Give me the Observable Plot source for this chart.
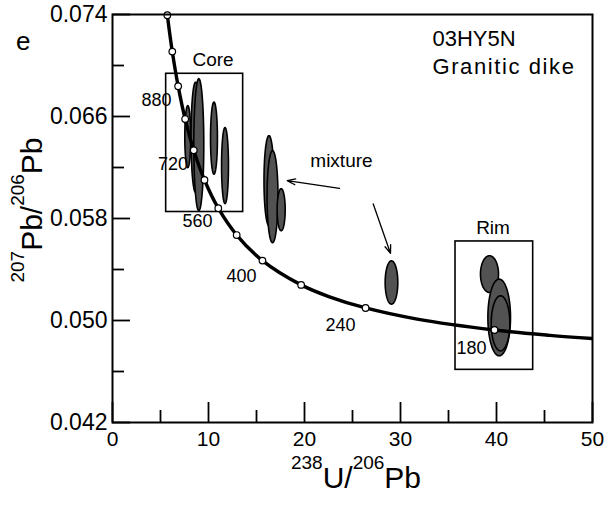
<!DOCTYPE html>
<html><head><meta charset="utf-8">
<script src="https://cdn.jsdelivr.net/npm/d3@7"></script>
<script src="https://cdn.jsdelivr.net/npm/@observablehq/plot@0.6"></script>
<style>body{margin:0;background:#fff} svg{display:block}</style>
</head><body><div id="chart"></div>
<script>
// Concordia curve (Tera-Wasserburg), ages in Ma
const concordiaAge = [1040, 960, 880, 800, 720, 640, 560, 480, 400, 320, 280, 240, 200, 160, 140, 125];
const concordiaX   = [5.712, 6.227, 6.837, 7.568, 8.463, 9.581, 11.019, 12.936, 15.621, 19.649, 22.527, 26.363, 31.735, 39.792, 45.547, 51.07];
const concordiaY   = [0.073946, 0.071090, 0.068377, 0.065800, 0.063350, 0.061022, 0.058808, 0.056703, 0.054700, 0.052794, 0.051878, 0.050982, 0.050108, 0.049256, 0.048837, 0.048525];
const markerAges   = [1040, 960, 880, 800, 720, 640, 560, 480, 400, 320, 240, 160];

// Age labels on the curve
const ageLabels = ["880", "720", "560", "400", "240", "180"];
const ageLabelX = [4.58, 6.30, 8.85, 13.44, 23.75, 37.40];
const ageLabelY = [0.06725, 0.06222, 0.05779, 0.05347, 0.04966, 0.04786];

// Error ellipses: centre and half-axes
const ellipseCX = [7.84, 8.65, 8.99, 10.57, 11.72, 16.30, 16.67, 17.57, 29.06, 39.27, 40.28, 40.42];
const ellipseCY = [0.06442, 0.06437, 0.06379, 0.06430, 0.06215, 0.06097, 0.05971, 0.05869, 0.05298, 0.05364, 0.05024, 0.04978];
const ellipseRX = [0.31, 0.47, 0.52, 0.36, 0.36, 0.52, 0.57, 0.42, 0.66, 0.94, 1.18, 0.97];
const ellipseRY = [0.00243, 0.00432, 0.00518, 0.00283, 0.00298, 0.00353, 0.00361, 0.00165, 0.00170, 0.00144, 0.00301, 0.00216];

// Boxes
const boxName = ["Core", "Rim"];
const boxX1 = [5.59, 35.73];
const boxX2 = [13.61, 43.82];
const boxY1 = [0.05851, 0.04613];
const boxY2 = [0.06935, 0.05620];

// Annotations
const noteText = ["Core", "Rim", "mixture"];
const noteX = [10.47, 39.64, 23.85];
const noteY = [0.07047, 0.05728, 0.06250];
const sampleText = ["03HY5N", "Granitic dike"];
const sampleX = [33.33, 33.33];
const sampleY = [0.07212, 0.06992];
const panelText = ["e"];
const panelX = [-9.3];
const panelY = [0.07185];

// Arrows
const arrowX1 = [23.65, 27.16];
const arrowY1 = [0.06036, 0.05914];
const arrowX2 = [18.20, 28.96];
const arrowY2 = [0.06097, 0.05526];

// Ticks
const xMajorTicks = [0, 10, 20, 30, 40, 50];
const xMinorTicks = [5, 15, 25, 35, 45];
const yMajorTicks = [0.042, 0.050, 0.058, 0.066, 0.074];
const yMinorTicks = [0.046, 0.054, 0.062, 0.070];

const curve = concordiaAge.map((a, i) => ({age: a, x: concordiaX[i], y: concordiaY[i]}));
const markers = curve.filter(d => markerAges.includes(d.age));
const idx = n => d3.range(n);

const ellipsePts = ellipseCX.flatMap((cx, i) => d3.range(73).map(k => {
  const t = k / 72 * 2 * Math.PI;
  return {id: i, x: cx + ellipseRX[i] * Math.cos(t), y: ellipseCY[i] + ellipseRY[i] * Math.sin(t)};
}));

const font = "'Liberation Sans', Arial, Helvetica, sans-serif";

const plot = Plot.plot({
  width: 612,
  height: 506,
  marginTop: 14,
  marginBottom: 84,
  marginLeft: 112,
  marginRight: 20,
  style: {fontFamily: font, color: "black", background: "white"},
  x: {domain: [0, 50]},
  y: {domain: [0.042, 0.074]},
  marks: [
    Plot.line(ellipsePts, {x: "x", y: "y", z: "id", fill: "#525252", stroke: "black", strokeWidth: 1.6, curve: "linear-closed"}),
    Plot.rect(idx(boxName.length), {x1: i => boxX1[i], x2: i => boxX2[i], y1: i => boxY1[i], y2: i => boxY2[i], fill: "none", stroke: "black", strokeWidth: 1.6}),
    Plot.line(curve, {x: "x", y: "y", stroke: "black", strokeWidth: 3.4, curve: "catmull-rom", clip: true}),
    Plot.dot(markers, {x: "x", y: "y", r: 3.3, fill: "white", stroke: "black", strokeWidth: 1.2}),
    Plot.arrow(idx(arrowX1.length), {x1: i => arrowX1[i], y1: i => arrowY1[i], x2: i => arrowX2[i], y2: i => arrowY2[i], stroke: "black", strokeWidth: 1.3, headLength: 10, headAngle: 40}),
    Plot.text(idx(ageLabels.length), {x: i => ageLabelX[i], y: i => ageLabelY[i], text: i => ageLabels[i], fontSize: 18, textAnchor: "middle", fill: "black"}),
    Plot.text(idx(noteText.length), {x: i => noteX[i], y: i => noteY[i], text: i => noteText[i], fontSize: 19, textAnchor: "middle", fill: "black"}),
    Plot.text(idx(sampleText.length), {x: i => sampleX[i], y: i => sampleY[i], text: i => sampleText[i], fontSize: 22, textAnchor: "start", fill: "black", letterSpacing: i => i === 1 ? "1.6px" : "0px"}),
    Plot.text(idx(panelText.length), {x: i => panelX[i], y: i => panelY[i], text: i => panelText[i], fontSize: 26, textAnchor: "middle", fill: "black"}),
    Plot.frame({stroke: "black", strokeWidth: 2}),
    Plot.axisX(xMajorTicks, {tickSize: -20, tickPadding: 29, tickFormat: d => String(d), fontSize: 21, strokeWidth: 1.8, label: null}),
    Plot.axisX(xMinorTicks, {tickSize: -12, tickFormat: () => "", strokeWidth: 1.8, label: null}),
    Plot.axisY(yMajorTicks, {tickSize: -18, tickPadding: 23, tickFormat: d => d.toFixed(3), fontSize: 23, strokeWidth: 1.8, label: null}),
    Plot.axisY(yMinorTicks, {tickSize: -12, tickFormat: () => "", strokeWidth: 1.8, label: null})
  ]
});

document.getElementById("chart").appendChild(plot);

// Granitic dike: widen to match reference spacing
d3.select(plot).selectAll("text").filter(function() { return this.textContent === "Granitic dike"; })
  .attr("letter-spacing", "1.6px");

// Axis titles with superscripts
const svg = d3.select(plot);
const xt = svg.append("text").attr("x", 356).attr("y", 488).attr("text-anchor", "middle")
  .attr("font-family", font).attr("font-size", 30).attr("fill", "black");
xt.append("tspan").attr("font-size", 19).attr("dy", -19).text("238");
xt.append("tspan").attr("dy", 19).text("U/");
xt.append("tspan").attr("font-size", 19).attr("dy", -19).text("206");
xt.append("tspan").attr("dy", 19).text("Pb");

const yt = svg.append("text").attr("transform", "translate(42,210) rotate(-90)").attr("text-anchor", "middle")
  .attr("font-family", font).attr("font-size", 30).attr("fill", "black");
yt.append("tspan").attr("font-size", 19).attr("dy", -18).text("207");
yt.append("tspan").attr("dy", 18).text("Pb/");
yt.append("tspan").attr("font-size", 19).attr("dy", -18).text("206");
yt.append("tspan").attr("dy", 18).text("Pb");
</script>
</body></html>
